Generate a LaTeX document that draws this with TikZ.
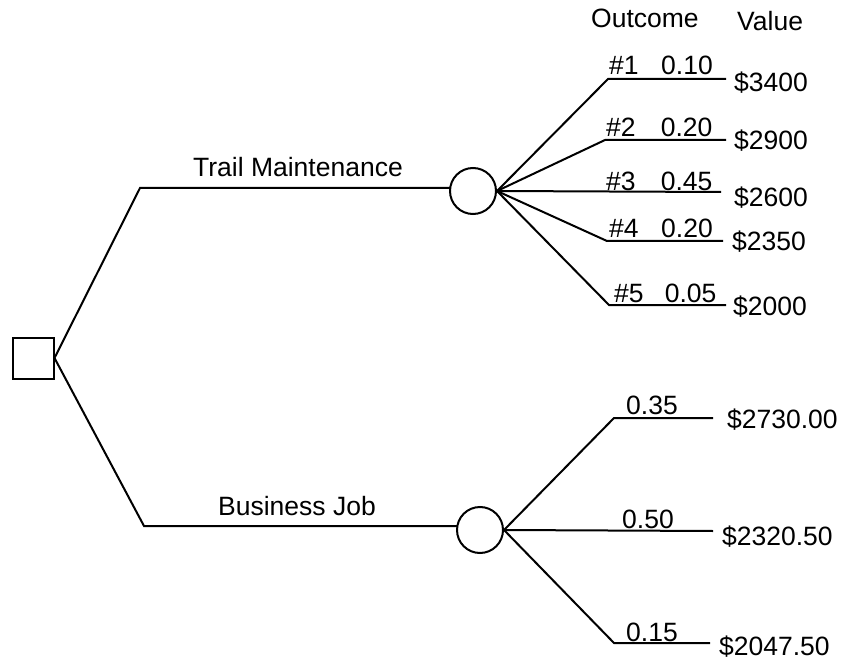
\documentclass[tikz,border=0pt]{standalone}
\usepackage{fontspec}
\setmainfont{Liberation Sans}
\begin{document}
\begin{tikzpicture}[x=1pt,y=-1pt,
  ln/.style={line width=2pt,black},
  lbl/.style={inner sep=0pt,font=\fontsize{26.5}{31}\selectfont,anchor=base west},
  dec/.style={draw,line width=2pt,minimum size=41pt,inner sep=0pt},
  chance/.style={draw,circle,line width=2pt,minimum size=46pt,inner sep=0pt}]
\useasboundingbox (0,0) rectangle (843,660);
% nodes
\node[dec] (sq) at (33,358) {};
\node[chance] (c1) at (473,191) {};
\node[chance] (c2) at (480,530) {};
% knees
\coordinate (k1) at (140,188);
\coordinate (k2) at (144,526);
\coordinate (t1a) at (450,188);
\coordinate (t2a) at (457,526);
\draw[ln] (sq.east) -- (k1) -- (t1a);
\draw[ln] (sq.east) -- (k2) -- (t2a);
% top fan
\coordinate (p1) at (608,79);  \coordinate (e1) at (726,79);
\coordinate (p2) at (605,140); \coordinate (e2) at (726,140);
\coordinate (e3) at (721,192);
\coordinate (p4) at (607,241); \coordinate (e4) at (723,241);
\coordinate (p5) at (609,305); \coordinate (e5) at (726,305);
\draw[ln] (c1.east) -- (p1) -- (e1);
\draw[ln] (c1.east) -- (p2) -- (e2);
\draw[ln] (c1.east) -- (e3);
\draw[ln] (c1.east) -- (p4) -- (e4);
\draw[ln] (c1.east) -- (p5) -- (e5);
% bottom fan
\coordinate (q1) at (614,418); \coordinate (f1) at (713,418);
\coordinate (f2) at (713,531);
\coordinate (q3) at (614,643); \coordinate (f3) at (710,643);
\draw[ln] (c2.east) -- (q1) -- (f1);
\draw[ln] (c2.east) -- (f2);
\draw[ln] (c2.east) -- (q3) -- (f3);
% labels
\node[lbl] (hout) at (591,28) {Outcome};
\node[lbl] (hval) at (737,31) {Value};
\node[lbl,anchor=base] (tm) at (298,177) {Trail Maintenance};
\node[lbl,anchor=base] (bj) at (297,515) {Business Job};
\node[lbl] (o1) at (609,75) {\#1\hspace{0.85em}0.10};
\node[lbl] (o2) at (606,137) {\#2\hspace{0.95em}0.20};
\node[lbl] (o3) at (606,191) {\#3\hspace{0.95em}0.45};
\node[lbl] (o4) at (609,238) {\#4\hspace{0.85em}0.20};
\node[lbl] (o5) at (614,302) {\#5\hspace{0.8em}0.05};
\node[lbl] (v1) at (734,92) {\$3400};
\node[lbl] (v2) at (734,150) {\$2900};
\node[lbl] (v3) at (734,207) {\$2600};
\node[lbl] (v4) at (732,251) {\$2350};
\node[lbl] (v5) at (733,315) {\$2000};
\node[lbl] (b1) at (626,414) {0.35};
\node[lbl] (b2) at (622,528) {0.50};
\node[lbl] (b3) at (626,641) {0.15};
\node[lbl] (w1) at (727,428) {\$2730.00};
\node[lbl] (w2) at (722,545) {\$2320.50};
\node[lbl] (w3) at (719,655) {\$2047.50};
\end{tikzpicture}
\end{document}
